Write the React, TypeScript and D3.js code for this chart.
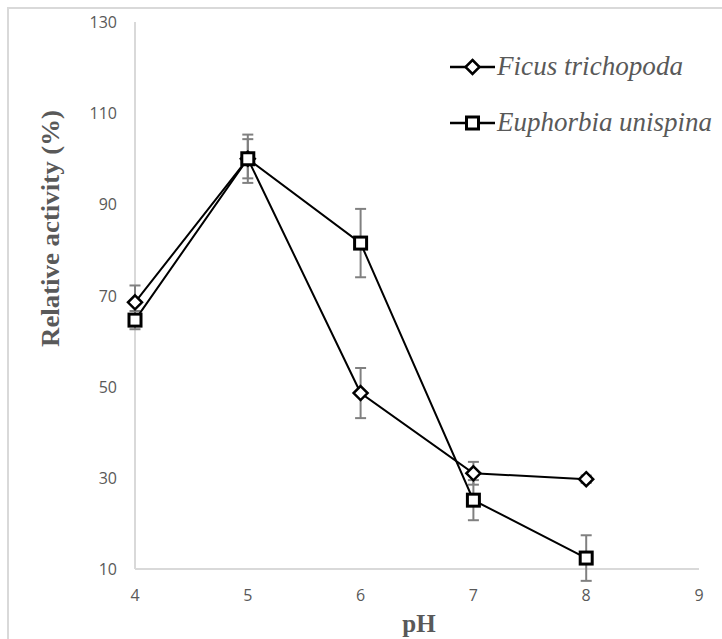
import React, { useEffect, useRef } from "react";
import * as d3 from "d3";

// pH values and relative activity (%)
const phValues = [4, 5, 6, 7, 8];
const ficusValues = [68.5, 100, 48.6, 31, 29.7];
const ficusErrors = [3.7, 4.3, 5.5, 2.5, 0.8];
const euphorbiaValues = [64.6, 100, 81.5, 25.1, 12.4];
const euphorbiaErrors = [2, 5.3, 7.5, 4.4, 5];
const xTicks = [4, 5, 6, 7, 8, 9];
const yTicks = [10, 30, 50, 70, 90, 110, 130];
const seriesNames = ["Ficus trichopoda", "Euphorbia unispina"];

export default function App() {
  const ref = useRef<SVGSVGElement>(null);

  useEffect(() => {
    const svg = d3.select(ref.current);
    svg.selectAll("*").remove();

    const x = d3.scaleLinear().domain([4, 9]).range([135, 699]);
    const y = d3.scaleLinear().domain([10, 130]).range([569, 22]);
    const axisColor = "#d9d9d9";
    const textColor = "#595959";

    // outer frame (only left and top edges are visible)
    svg.append("path")
      .attr("d", "M 8 639 L 8 8 L 722 8")
      .attr("fill", "none")
      .attr("stroke", axisColor)
      .attr("stroke-width", 2);

    // axes lines
    svg.append("line")
      .attr("x1", x(4)).attr("x2", x(4))
      .attr("y1", y(130)).attr("y2", y(10))
      .attr("stroke", axisColor).attr("stroke-width", 2);
    svg.append("line")
      .attr("x1", x(4)).attr("x2", x(9))
      .attr("y1", y(10)).attr("y2", y(10))
      .attr("stroke", axisColor).attr("stroke-width", 2);

    // tick labels
    svg.append("g").selectAll("text")
      .data(yTicks)
      .enter().append("text")
      .attr("x", 117)
      .attr("y", (d) => y(d) + 6)
      .attr("text-anchor", "end")
      .attr("font-family", "'Open Sans', sans-serif")
      .attr("font-size", 16)
      .attr("fill", textColor)
      .text((d) => d);
    svg.append("g").selectAll("text")
      .data(xTicks)
      .enter().append("text")
      .attr("x", (d) => x(d))
      .attr("y", 601)
      .attr("text-anchor", "middle")
      .attr("font-family", "'Open Sans', sans-serif")
      .attr("font-size", 16)
      .attr("fill", textColor)
      .text((d) => d);

    // axis titles
    svg.append("text")
      .attr("transform", "translate(59," + 228.5 + ") rotate(-90)")
      .attr("text-anchor", "middle")
      .attr("font-family", "'Liberation Serif', serif")
      .attr("font-weight", "bold")
      .attr("font-size", 26)
      .attr("textLength", 237)
      .attr("lengthAdjust", "spacingAndGlyphs")
      .attr("fill", textColor)
      .text("Relative activity (%)");
    svg.append("text")
      .attr("x", 419)
      .attr("y", 632)
      .attr("text-anchor", "middle")
      .attr("font-family", "'Liberation Serif', serif")
      .attr("font-weight", "bold")
      .attr("font-size", 25)
      .attr("fill", textColor)
      .text("pH");

    const series = [
      { name: seriesNames[0], values: ficusValues, errors: ficusErrors, shape: "diamond" },
      { name: seriesNames[1], values: euphorbiaValues, errors: euphorbiaErrors, shape: "square" },
    ];

    const line = d3.line<number>()
      .x((d, i) => x(phValues[i]))
      .y((d) => y(d));

    function drawMarker(g: any, cx: number, cy: number, shape: string) {
      if (shape === "diamond") {
        const r = 7;
        g.append("path")
          .attr("d", `M ${cx} ${cy - r} L ${cx + r} ${cy} L ${cx} ${cy + r} L ${cx - r} ${cy} Z`)
          .attr("fill", "#fff")
          .attr("stroke", "#000")
          .attr("stroke-width", 2.5);
      } else {
        const s = 12;
        g.append("rect")
          .attr("x", cx - s / 2).attr("y", cy - s / 2)
          .attr("width", s).attr("height", s)
          .attr("fill", "#fff")
          .attr("stroke", "#000")
          .attr("stroke-width", 3);
      }
    }

    // error bars
    series.forEach((s) => {
      const g = svg.append("g");
      s.values.forEach((v, i) => {
        const cx = x(phValues[i]);
        const top = y(v + s.errors[i]);
        const bot = y(v - s.errors[i]);
        g.append("line").attr("x1", cx).attr("x2", cx).attr("y1", top).attr("y2", bot)
          .attr("stroke", "#808080").attr("stroke-width", 2);
        [top, bot].forEach((yy) => {
          g.append("line").attr("x1", cx - 5.5).attr("x2", cx + 5.5).attr("y1", yy).attr("y2", yy)
            .attr("stroke", "#808080").attr("stroke-width", 2);
        });
      });
    });

    // lines and markers
    series.forEach((s) => {
      svg.append("path")
        .attr("d", line(s.values))
        .attr("fill", "none")
        .attr("stroke", "#000")
        .attr("stroke-width", 2);
    });
    series.forEach((s) => {
      const g = svg.append("g");
      s.values.forEach((v, i) => drawMarker(g, x(phValues[i]), y(v), s.shape));
    });

    // legend
    const legendY = [67, 123];
    const legendWidths = [186, 215];
    series.forEach((s, i) => {
      const g = svg.append("g");
      g.append("line").attr("x1", 450).attr("x2", 495)
        .attr("y1", legendY[i]).attr("y2", legendY[i])
        .attr("stroke", "#000").attr("stroke-width", 2.5);
      drawMarker(g, 472.5, legendY[i], s.shape);
      g.append("text")
        .attr("x", 497)
        .attr("y", legendY[i] + 8)
        .attr("font-family", "'Liberation Serif', serif")
        .attr("font-style", "italic")
        .attr("font-size", 27)
        .attr("textLength", legendWidths[i])
        .attr("lengthAdjust", "spacingAndGlyphs")
        .attr("fill", textColor)
        .text(s.name);
    });
  }, []);

  return (
    <svg
      ref={ref}
      width={722}
      height={639}
      style={{ position: "absolute", left: 0, top: 0, background: "#fff" }}
    />
  );
}
